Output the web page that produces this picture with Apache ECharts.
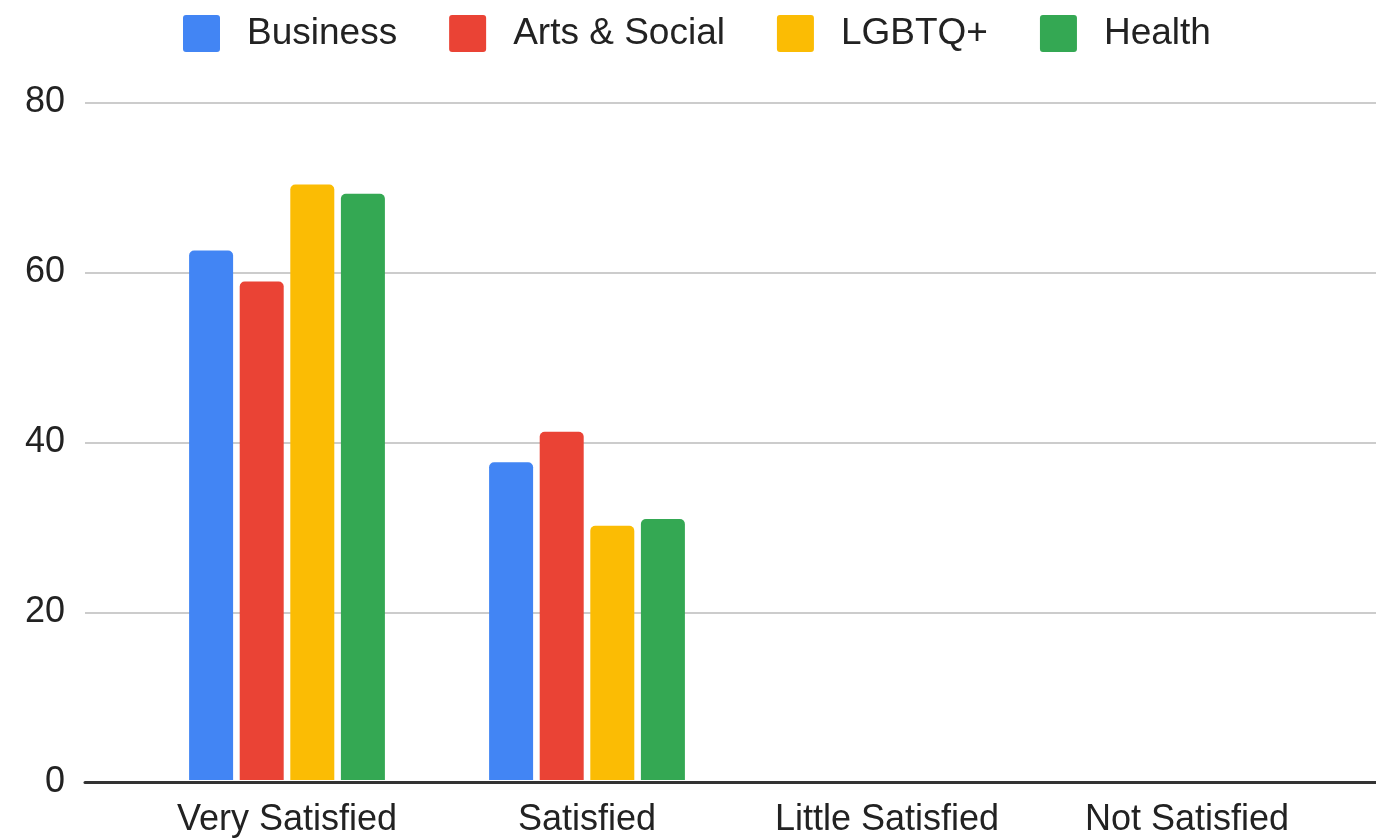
<!DOCTYPE html>
<html>
<head>
<meta charset="utf-8">
<script src="https://cdn.jsdelivr.net/npm/echarts@6/dist/echarts.min.js"></script>
<style>html,body{margin:0;padding:0;background:#fff}#c{width:1376px;height:838px}</style>
</head>
<body>
<div id="c"></div>
<script>
const categories = ['Very Satisfied', 'Satisfied', 'Little Satisfied', 'Not Satisfied'];
const seriesNames = ['Business', 'Arts & Social', 'LGBTQ+', 'Health'];
const business = [62.5, 37.5, 0, 0];
const artsSocial = [58.85, 41.1, 0, 0];
const lgbtq = [70.3, 30.0, 0, 0];
const health = [69.2, 30.8, 0, 0];
const yTicks = [0, 20, 40, 60, 80];
const colors = ['#4285F4', '#EA4335', '#FBBC04', '#34A853'];

const FONT = '"Liberation Sans", Arial, sans-serif';
const values = [business, artsSocial, lgbtq, health];
const chart = echarts.init(document.getElementById('c'), null, {renderer: 'canvas'});
chart.setOption({
  animation: false,
  color: colors,
  legend: {
    top: 15,
    left: 183,
    padding: 0,
    itemWidth: 37,
    itemHeight: 37,
    itemGap: 52,
    icon: 'path://M3,0 H34 Q37,0 37,3 V34 Q37,37 34,37 H3 Q0,37 0,34 V3 Q0,0 3,0 Z',
    textStyle: {fontFamily: FONT, fontSize: 37, color: '#222', padding: [0, 0, 0, 22]},
    data: seriesNames
  },
  grid: [
    {left: 137, right: 39, top: 102.3, bottom: 838 - 782.5},
    {left: 85, right: 0, top: 102.3, bottom: 838 - 782.5}
  ],
  xAxis: [
    {type: 'category', gridIndex: 0, data: categories,
     axisLine: {show: false}, axisTick: {show: false},
     axisLabel: {fontFamily: FONT, fontSize: 36, color: '#222', margin: 22}},
    {type: 'value', gridIndex: 1, min: 0, max: 1,
     axisLine: {show: true, lineStyle: {color: '#333', width: 3}},
     axisTick: {show: false}, axisLabel: {show: false}, splitLine: {show: false}}
  ],
  yAxis: [
    {type: 'value', gridIndex: 0, min: 0, max: yTicks[yTicks.length - 1], interval: 20,
     axisLine: {show: false}, axisTick: {show: false}, axisLabel: {show: false}, splitLine: {show: false}},
    {type: 'value', gridIndex: 1, min: 0, max: yTicks[yTicks.length - 1], interval: 20,
     axisLine: {show: false}, axisTick: {show: false},
     axisLabel: {fontFamily: FONT, fontSize: 36, color: '#222', margin: 20},
     splitLine: {show: true, lineStyle: {color: '#cccccc', width: 2}}}
  ],
  series: seriesNames.map((n, i) => ({
    name: n,
    type: 'bar',
    xAxisIndex: 0,
    yAxisIndex: 0,
    data: values[i],
    barWidth: 44,
    barGap: '15%',
    itemStyle: {color: colors[i], borderRadius: [5, 5, 0, 0]},
    z: 3
  }))
});
</script>
</body>
</html>
